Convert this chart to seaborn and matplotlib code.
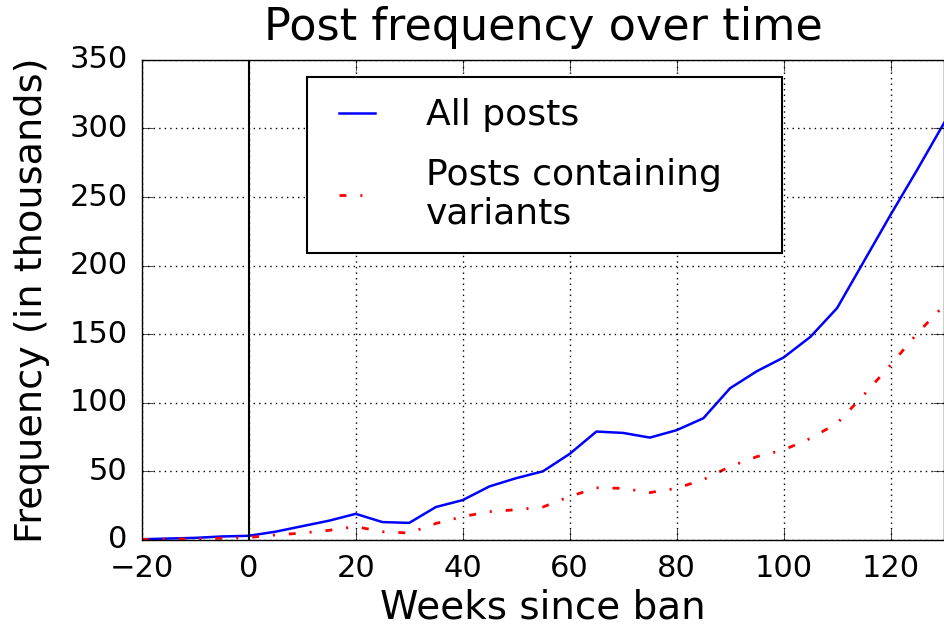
import matplotlib
matplotlib.use("Agg")
import numpy as np
import pandas as pd
import matplotlib.pyplot as plt
import seaborn as sns

# Weekly post counts (thousands)
weeks = [-20, -15, -10, -5, 0, 5, 10, 15, 20, 25, 30, 35, 40, 45, 50, 55, 60,
         65, 70, 75, 80, 85, 90, 95, 100, 105, 110, 115, 120, 125, 130]
all_posts = [0.5, 1, 1.5, 2.5, 3, 6, 10, 14, 19, 13, 12.4, 24, 29, 39, 45, 50, 62.7,
             79, 78, 74.6, 80, 88.7, 110.6, 123, 133, 148, 169, 203, 237, 270, 304]
variant_posts = [0.3, 0.5, 0.8, 1.2, 1.8, 3.6, 5, 7, 9.7, 6, 5, 12, 17, 20.6, 22, 24, 31.6,
                 38, 37.6, 34.5, 37.6, 44, 53.5, 60.7, 65.6, 74, 85, 105.7, 127.5, 150.6, 171]

plt.style.use("classic")
plt.rcParams["font.family"] = ["DejaVu Sans"]
plt.rcParams["figure.facecolor"] = "white"
plt.rcParams["savefig.facecolor"] = "white"

df = pd.DataFrame({"week": weeks, "all": all_posts, "variants": variant_posts})

fig = plt.figure(figsize=(9.45, 6.3), dpi=100)
ax = fig.add_axes([0.150, 0.143, 0.849, 0.762])

sns.lineplot(data=df, x="week", y="all", color="b", linewidth=1.8,
             label="All posts", ax=ax)
line2 = sns.lineplot(data=df, x="week", y="variants", color="r", linewidth=2,
                     label="Posts containing\nvariants", ax=ax).lines[-1]
line2.set_dashes((5, 10, 1.5, 10))
ax.axvline(0, color="black", linewidth=1.5)

ax.set_xlim(-20, 130)
ax.set_ylim(0, 350)
ax.set_xticks(range(-20, 121, 20))
ax.set_yticks(range(0, 351, 50))
ax.tick_params(labelsize=22, direction="in", length=8, pad=10)
ax.grid(True, color="black", linestyle=":", linewidth=1)
ax.set_title("Post frequency over time", fontsize=32, pad=14)
ax.set_xlabel("Weeks since ban", fontsize=28, labelpad=4)
ax.set_ylabel("Frequency (in thousands)", fontsize=27.5, labelpad=14)

leg = ax.legend(loc="upper left", bbox_to_anchor=(0.2057, 0.5, 0.592, 0.465),
                mode="expand", borderaxespad=0, fontsize=26,
                frameon=True, fancybox=False, handlelength=1.6,
                handletextpad=1.1, borderpad=0.6, labelspacing=0.7)
leg.get_frame().set_edgecolor("black")
leg.get_frame().set_linewidth(1.5)

fig.savefig("out.png", dpi=100)
